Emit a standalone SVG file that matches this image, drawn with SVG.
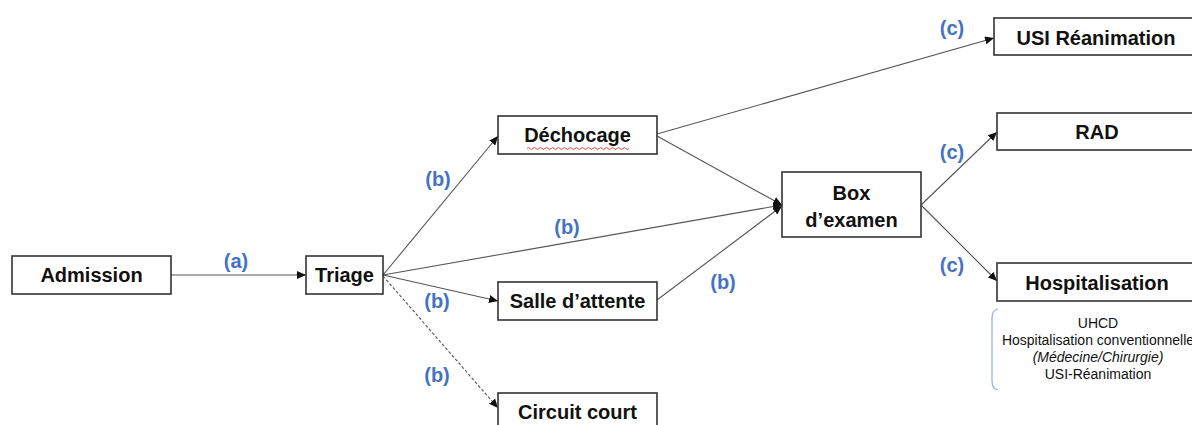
<svg xmlns="http://www.w3.org/2000/svg" width="1192" height="425" viewBox="0 0 1192 425">
<style>
.box{fill:#fff;stroke:#333;stroke-width:1.6}
.t{font-family:"Liberation Sans",Arial,sans-serif;font-weight:bold;font-size:20px;fill:#111;text-anchor:middle}
.lbl{font-family:"Liberation Sans",Arial,sans-serif;font-weight:bold;font-size:20px;fill:#4472C4;text-anchor:middle}
.s{font-family:"Liberation Sans",Arial,sans-serif;font-size:14px;fill:#111;text-anchor:middle}
.c{stroke:#555;stroke-width:1.1;fill:none;marker-end:url(#ah)}
.d{stroke-dasharray:3 2}
</style>
<defs>
<marker id="ah" markerWidth="9" markerHeight="8" refX="9" refY="4" orient="auto" markerUnits="userSpaceOnUse">
<path d="M0,0 L9,4 L0,8 Z" fill="#111"/>
</marker>
</defs>
<rect width="1192" height="425" fill="#fff"/>
<g id="connectors">
<line class="c" x1="171" y1="275" x2="306" y2="275"/>
<line class="c" x1="383" y1="275" x2="498" y2="136"/>
<line class="c" x1="383" y1="275" x2="782" y2="205"/>
<line class="c" x1="383" y1="275" x2="498" y2="301"/>
<line class="c d" x1="383" y1="276" x2="498" y2="408"/>
<line class="c" x1="657" y1="134" x2="994" y2="38"/>
<line class="c" x1="657" y1="136" x2="782" y2="205"/>
<line class="c" x1="657" y1="300" x2="782" y2="206"/>
<line class="c" x1="921" y1="205" x2="997" y2="132"/>
<line class="c" x1="921" y1="205" x2="997" y2="281"/>
</g>
<g id="labels">
<text class="lbl" x="236" y="268">(a)</text>
<text class="lbl" x="438" y="186">(b)</text>
<text class="lbl" x="567" y="234">(b)</text>
<text class="lbl" x="437" y="308">(b)</text>
<text class="lbl" x="437" y="382">(b)</text>
<text class="lbl" x="723" y="289">(b)</text>
<text class="lbl" x="952" y="35">(c)</text>
<text class="lbl" x="952" y="159">(c)</text>
<text class="lbl" x="952" y="272">(c)</text>
</g>
<g id="admission"><rect class="box" x="12" y="256" width="159" height="38"/><text class="t" x="91.5" y="282">Admission</text></g>
<g id="triage"><rect class="box" x="306" y="256" width="77" height="38"/><text class="t" x="344.5" y="282">Triage</text></g>
<g id="dechocage"><rect class="box" x="498" y="116" width="159" height="38"/><text class="t" x="577.5" y="142">Déchocage</text>
<path d="M527,148.5 q1.5,-2 3,0 t3,0 t3,0 t3,0 t3,0 t3,0 t3,0 t3,0 t3,0 t3,0 t3,0 t3,0 t3,0 t3,0 t3,0 t3,0 t3,0 t3,0 t3,0 t3,0 t3,0 t3,0 t3,0 t3,0 t3,0 t3,0 t3,0 t3,0 t3,0 t3,0 t3,0 t3,0 t3,0 t3,0" fill="none" stroke="#e03030" stroke-width="0.9"/></g>
<g id="salle"><rect class="box" x="498" y="282" width="159" height="38"/><text class="t" x="577.5" y="308">Salle d’attente</text></g>
<g id="circuit"><rect class="box" x="498" y="393" width="159" height="40"/><text class="t" x="577.5" y="419">Circuit court</text></g>
<g id="box"><rect class="box" x="782" y="172" width="139" height="65"/><text class="t" x="851.5" y="200">Box</text><text class="t" x="851.5" y="227">d’examen</text></g>
<g id="usi"><rect class="box" x="994" y="18" width="206" height="37"/><text class="t" x="1096" y="45">USI Réanimation</text></g>
<g id="rad"><rect class="box" x="997" y="113" width="203" height="37"/><text class="t" x="1097" y="139">RAD</text></g>
<g id="hospitalisation"><rect class="box" x="997" y="263" width="203" height="38"/><text class="t" x="1097" y="290">Hospitalisation</text></g>
<g id="hosp-details">
<path d="M998,309 Q992,310 992,318 L992,381 Q992,389 998,390" fill="none" stroke="#8FAADC" stroke-width="1.2"/>
<text class="s" x="1098" y="328">UHCD</text>
<text class="s" x="1098" y="345">Hospitalisation conventionnelle</text>
<text class="s" x="1098" y="362" font-style="italic">(Médecine/Chirurgie)</text>
<text class="s" x="1098" y="379">USI-Réanimation</text>
</g>
</svg>
